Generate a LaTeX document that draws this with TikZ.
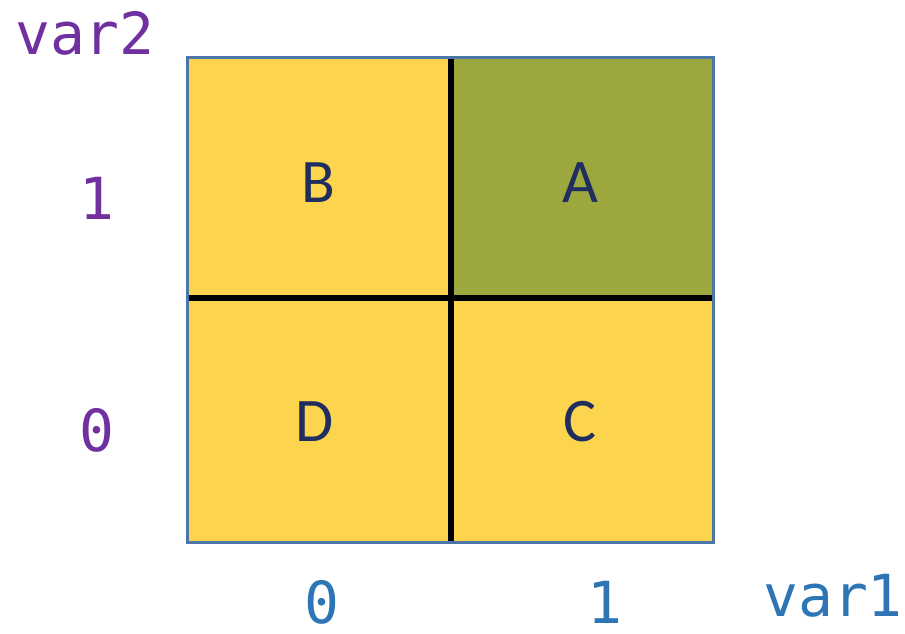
\documentclass[tikz,border=0pt]{standalone}
\usepackage{fontspec}
\setmainfont{Carlito}
\setmonofont{DejaVu Sans Mono}
\definecolor{cellyellow}{HTML}{FDD44E}
\definecolor{cellolive}{HTML}{9CA83D}
\definecolor{framblue}{HTML}{4A76A8}
\definecolor{labpurple}{HTML}{7030A0}
\definecolor{labblue}{HTML}{2E75B6}
\definecolor{letnavy}{HTML}{1F2E5E}
\begin{document}
\begin{tikzpicture}[x=1pt,y=-1pt,
  lab/.style={font=\fontsize{58}{62}\selectfont\ttfamily, inner sep=0pt},
  vlab/.style={lab, text=labpurple},
  hlab/.style={lab, text=labblue},
  cell/.style={font=\fontsize{62}{66}\selectfont, text=letnavy, inner sep=0pt}]
\useasboundingbox (0,0) rectangle (905,633);
\fill[cellyellow] (187,57) rectangle (713,542);
\fill[cellolive] (451,57) rectangle (713,298);
\draw[black, line width=6pt] (451,57) -- (451,542);
\draw[black, line width=6pt] (187,298) -- (713,298);
\draw[framblue, line width=3pt] (187,57) rectangle (713,542);
\node[cell] (B) at (318,183) {B};
\node[cell] (A) at (580,183) {A};
\node[cell] (D) at (315,422) {D};
\node[cell] (C) at (580,422) {C};
\node[vlab] (v2) at (85,33) {var2};
\node[vlab] (y1) at (97,198) {1};
\node[vlab] (y0) at (97,430) {0};
\node[hlab] (x0) at (322,602) {0};
\node[hlab] (x1) at (605,602) {1};
\node[hlab] (v1) at (833,596) {var1};
\end{tikzpicture}
\end{document}
